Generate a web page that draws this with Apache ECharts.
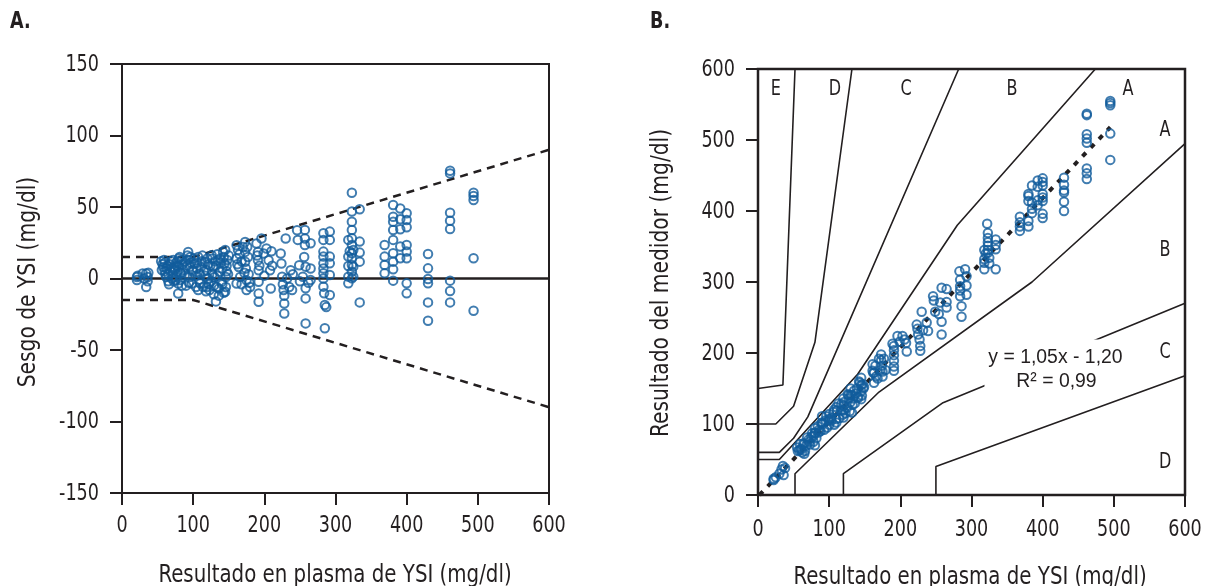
<!DOCTYPE html>
<html>
<head>
<meta charset="utf-8">
<script src="https://cdn.jsdelivr.net/npm/echarts@6/dist/echarts.min.js"></script>
<style>
html,body{margin:0;padding:0;background:#fff;}
#c{width:1205px;height:586px;}
</style>
</head>
<body>
<div id="c"></div>
<script>
// ---------- DATA ----------
const xTicks = [0, 100, 200, 300, 400, 500, 600];
const biasTicks = [-150, -100, -50, 0, 50, 100, 150];
const meterTicks = [0, 100, 200, 300, 400, 500, 600];

// Panel A: [YSI plasma result, bias]
const biasPoints = [
[21,1],[21,-1],[22,2],[29,3.5],[31,0],[34,3.5],[34,-6],[36,-2],[36,1],[37,4],
[55,12],[57,10],[58,8],[60,5],[60,11],[62,1],[63,7],[65,-2],[65,3],[67,10],[68,5],[70,0],[72,13],[73,8],[74,6],[75,-1],[76,1],[77,9],[78,12],[79,-3.5],[79,-10.5],[80,14],[81,15],[82,4],[83,3.5],[84,-5],[85,10],
[56,6],[59,13],[61,3],[64,9],[66,-4],[69,12],[71,7],[73,-2],[76,11],[78,5],[80,8],[82,-1],[84,13],[86,6],[88,2],[89,12],[90,-5],[91,9],
[92,16],[93,18.6],[93,13],[94,-3],[95,8],[95,1],[97,11],[98,-3.5],[100,4.7],[101,14],[102,10.5],[104,-6],[105,7],[107,15],[108,-1],[109,3.5],[110,-3.5],[112,12],[114,-6],[115,5],[116,11.7],[118,-9],[119,5.8],[120,14],[121,0],[122,-4],[123,-8],[124,9],[126,16.3],[127,3],[128,8],[129,-5],[130,1],[131,12],[132,-16],[133,-6],[134,17],[135,12.8],[136,-12],[137,4.7],[138,14],[140,-2.3],[141,7],[142,18.6],[143,-10],[144,10.5],[145,-9.3],[145,20],[146,1],[147,5],[148,13],[150,16],
[96,15],[99,6],[103,2],[106,11],[107,-8],[111,8],[113,16],[117,2],[119,-6],[121,10],[125,-2],[127,14],[129,-11],[132,9],[134,2],[136,-7],[139,11],[141,-4],[143,15],[146,-6],[147,9],[149,3],
[161,23.3],[161,14],[161,-3.5],[163,20],[164,8],[166,1],[168,12],[173,25.6],[173,18.6],[173,11.7],[174,7],[175,-1.2],[175,-8],[176,22],[178,3],[180,-6],
[162,10],[165,17],[168,-4],[170,22],[172,4],[177,15],[179,-3],
[189,24.5],[190,16],[191,18.6],[191,12.8],[192,5.8],[192,-2.3],[192,-10.5],[192,-16.3],[193,9],[196,28],[199,17.5],[200,2],[203,21],[206,12.8],[208,5.8],[209,-7],[210,19],[211,9],
[223,17.5],[224,10.5],[225,1.2],[226,-4],[227,-8],[228,-17.5],[228,-24.5],[228,-12],[230,28],[232,0],[235,-6],[237,5.8],[239,-8],[240,3],[246,33.8],[247,27],[249,9.3],[250,-2],[254,1.2],[256,15],[257,34],[257,28],[257,23.4],[258,8.3],[258,-6.9],[258,-13.9],[258,-31.4],[262,-3],[265,24.6],[265,7],[265,-1],
[283,31.6],[283,27],[283,18.8],[283,15.3],[283,10.6],[283,7],[283,3.6],[283,0],[283,-5.7],[284,-10.4],[285,-18.5],[285,-34.8],[287,-20],[292,32.8],[292,27],[292,15.3],[292,10.6],[292,2.4],[292,-11.5],
[318,27],[318,15.3],[318,8.7],[318,1.3],[318,-3.4],[320,19],[323,60],[323,46.8],[323,39.7],[323,33.9],[323,28.1],[323,23.4],[323,17.6],[323,14.1],[323,9.4],[323,4.8],[323,0.1],[325,19.9],[325,8.3],[325,1.3],[334,48.4],[334,25.8],[334,18.1],[334,11.8],[334,-16.7],
[369,23.4],[369,15.3],[369,9.4],[369,3.6],[381,51.4],[381,43.2],[381,39.7],[381,33.9],[381,27],[381,17.6],[381,11.8],[381,6.4],[381,-1.5],[391,49],[391,41.4],[391,34.4],[391,22.3],[391,14.1],[400,45.6],[400,40.9],[400,35.8],[400,23.4],[400,18.8],[400,14.1],[400,-3.4],[400,-10.4],
[430,17.1],[430,7.1],[430,-0.3],[430,-3.4],[430,-16.7],[430,-29.5],
[461,75.4],[461,73.5],[461,46],[461,40.4],[461,34.6],[461,-1.5],[461,-8.7],[461,-16.7],
[494,60],[494,57.7],[494,54.9],[494,14.1],[494,-22.5]
];
const biasUpper = [[0,15],[100,15],[600,90]];
const biasLower = [[0,-15],[100,-15],[600,-90]];
const biasZero = [[0,0],[600,0]];

// Panel B: [YSI plasma result, meter result]
const meterPoints = [
[22,23],[22,21],[25,25],[30,30],[33,36],[35,41],[36,28],[38,38],
[55,67],[58,63],[60,65],[62,60],[65,72],[65,58],[68,70],[72,75],[75,82],[78,75],[80,94],[80,87],[80,70],[82,80],[85,88],
[56,62],[59,72],[61,64],[64,73],[66,62],[69,81],[71,78],[73,71],[76,87],[78,83],[80,88],[84,97],[86,92],[88,90],[89,101],[91,100],
[90,111],[90,102],[93,92],[95,105],[97,95],[100,114],[100,107],[100,99],[103,108],[107,120],[110,124],[110,107],[110,102],[114,108],[117,128],[120,136],[120,126],[120,119],[120,109],[123,115],[126,142],[128,136],[130,150],[130,141],[130,131],[132,116],[133,127],[135,147],[138,143],[140,138],[142,160],[145,165],[145,155],[145,146],[145,135],[148,150],
[96,111],[99,105],[103,105],[106,117],[107,99],[111,119],[113,129],[117,119],[119,113],[121,131],[125,123],[127,141],[129,118],[132,141],[134,136],[136,129],[139,150],[141,137],[143,158],[146,140],[147,156],[149,152],
[161,184],[161,175],[163,172],[163,158],[166,167],[173,198],[173,190],[174,182],[175,174],[175,167],
[162,172],[165,182],[168,164],[170,192],[172,176],[177,192],[179,176],
[189,213],[191,210],[191,204],[191,197],[191,189],[191,181],[191,175],[196,224],[199,216],[203,224],[206,219],[208,214],[209,202],[223,240],[224,234],[225,226],[227,219],[228,210],[228,203],[230,258],[232,232],[237,243],[239,231],[246,280],[247,274],[249,258],[254,255],[256,271],[258,292],[258,226],[258,244],[265,290],[265,272],[265,264],[283,315],[284,303],[284,294],[284,288],[284,280],[286,266],[286,251],[291,318],[293,308],[293,295],[293,282],
[318,345],[318,332],[318,327],[318,318],[320,340],[322,382],[323,369],[323,362],[323,356],[323,351],[323,345],[323,341],[325,334],[325,326],[334,360],[334,352],[334,346],[334,318],
[368,392],[368,384],[368,378],[368,372],[380,424],[380,421],[380,414],[380,386],[380,378],[385,436],[385,412],[385,403],[385,397],[393,443],[393,434],[393,415],[393,408],[400,446],[400,441],[400,436],[400,424],[400,419],[400,414],[400,396],[400,390],
[430,447],[430,437],[430,429],[430,426],[430,413],[430,400],
[462,537],[462,535],[462,508],[462,502],[462,496],[462,460],[462,453],[462,445],
[495,555],[495,552],[495,549],[495,509],[495,472]
];
const regressionLine = [[2,0],[495,518]];
// Parkes error grid boundaries
const zoneLines = [
  [[0,50],[30,50],[140,170],[280,380],[474,600]],
  [[52,0],[52,30],[170,145],[385,300],[600,495]],
  [[0,60],[30,60],[50,80],[70,110],[282,600]],
  [[120,0],[120,30],[260,130],[600,270]],
  [[0,100],[25,100],[50,125],[80,215],[132,600]],
  [[250,0],[250,40],[600,168]],
  [[0,150],[35,155],[52,600]]
];
const zoneLabels = [
  [25,571,'E'],[108,571,'D'],[208,571,'C'],[357,571,'B'],[520,571,'A'],
  [572,513,'A'],[572,345,'B'],[572,200,'C'],[572,46,'D']
];
const equationPos = [418, 178];
const equationLines = ['y = 1,05x - 1,20', 'R² = 0,99'];

// ---------- CHART ----------
const INK = '#231f20';
const BLUE = '#125c9c';
const COND = "'Liberation Sans Narrow','DejaVu Sans Condensed',sans-serif";
const SQ = 0.85; // horizontal squeeze to mimic a condensed face
const chart = echarts.init(document.getElementById('c'), null, {renderer:'canvas'});

function xAxisDef(gi){
  return {
    type:'value', gridIndex:gi, min:xTicks[0], max:xTicks[xTicks.length-1], interval:100,
    axisLine:{show:true, onZero:false, lineStyle:{color:INK, width:2}},
    axisTick:{show:true, inside:false, length:12, lineStyle:{color:INK, width:2}},
    axisLabel:{show:false}, splitLine:{show:false}
  };
}
function yAxisDef(gi, ticks){
  return {
    type:'value', gridIndex:gi, min:ticks[0], max:ticks[ticks.length-1], interval:ticks[1]-ticks[0],
    axisLine:{show:true, onZero:false, lineStyle:{color:INK, width:2}},
    axisTick:{show:true, inside:false, length:12, lineStyle:{color:INK, width:2}},
    axisLabel:{show:false}, splitLine:{show:false}
  };
}
function lineSeries(xi, data, style, z){
  return {type:'line', xAxisIndex:xi, yAxisIndex:xi, data:data, symbol:'none', silent:true,
    lineStyle:style, z:z||2, animation:false, clip:true};
}

const series = [];
series.push(lineSeries(0, biasZero, {color:INK, width:2.5, type:'solid'}));
series.push(lineSeries(0, biasUpper, {color:INK, width:2.5, type:[8,6]}));
series.push(lineSeries(0, biasLower, {color:INK, width:2.5, type:[8,6]}));
series.push({type:'scatter', xAxisIndex:0, yAxisIndex:0, data:biasPoints, symbol:'circle', symbolSize:8.5,
  itemStyle:{color:'transparent', borderColor:BLUE, borderWidth:2}, z:5, animation:false, silent:true});

zoneLines.forEach(l => series.push(lineSeries(1, l, {color:INK, width:1.6, type:'solid'})));
series.push(lineSeries(1, regressionLine, {color:INK, width:4, type:[5,7]}, 3));
series.push({type:'scatter', xAxisIndex:1, yAxisIndex:1, data:meterPoints, symbol:'circle', symbolSize:8.5,
  itemStyle:{color:'transparent', borderColor:BLUE, borderWidth:2}, z:5, animation:false, silent:true});

chart.setOption({
  animation:false,
  backgroundColor:'#fff',
  grid:[
    {left:122, top:64, width:427, height:429, show:true, borderColor:INK, borderWidth:2, backgroundColor:'transparent'},
    {left:758, top:69, width:427, height:426, show:true, borderColor:INK, borderWidth:2.5, backgroundColor:'transparent'}
  ],
  xAxis:[xAxisDef(0), xAxisDef(1)],
  yAxis:[yAxisDef(0,biasTicks), yAxisDef(1,meterTicks)],
  series:series
});

// ---------- TEXT (positioned through the axes' scales) ----------
function txt(x, y, text, size, align, valign, opts){
  opts = opts || {};
  return {type:'text', x:x, y:y, scaleX:opts.sx || SQ, rotation:opts.rot || 0, z:100,
    style:{text:text, x:0, y:0, fill:INK, font:(opts.bold?'bold ':'') + size + 'px ' + (opts.family || COND),
      textAlign:align, textVerticalAlign:valign}};
}
const g = [];
// Panel A ticks
xTicks.forEach(v => { const p = chart.convertToPixel({gridIndex:0}, [v, biasTicks[0]]); g.push(txt(p[0], p[1]+22, String(v), 23, 'center', 'top')); });
biasTicks.forEach(v => { const p = chart.convertToPixel({gridIndex:0}, [xTicks[0], v]); g.push(txt(p[0]-23, p[1]+1, String(v), 23, 'right', 'middle')); });
// Panel B ticks
xTicks.forEach(v => { const p = chart.convertToPixel({gridIndex:1}, [v, meterTicks[0]]); g.push(txt(p[0], p[1]+24, String(v), 23, 'center', 'top')); });
meterTicks.forEach(v => { const p = chart.convertToPixel({gridIndex:1}, [xTicks[0], v]); g.push(txt(p[0]-23, p[1]+1, String(v), 23, 'right', 'middle')); });
// Zone letters
zoneLabels.forEach(d => { const p = chart.convertToPixel({gridIndex:1}, [d[0], d[1]]); g.push(txt(p[0], p[1], d[2], 21, 'center', 'middle')); });
// Regression equation with white backing
{
  const p = chart.convertToPixel({gridIndex:1}, equationPos);
  g.push({type:'rect', z:90, shape:{x:p[0]-71, y:p[1]-29, width:144, height:55}, style:{fill:'#fff'}});
  g.push(txt(p[0], p[1]-11, equationLines[0], 20, 'center', 'middle', {sx:0.97, family:"'Liberation Sans',Arial,sans-serif"}));
  g.push(txt(p[0]+1, p[1]+13, equationLines[1], 20, 'center', 'middle', {sx:0.97, family:"'Liberation Sans',Arial,sans-serif"}));
}
// Titles
g.push(txt(10, 22, 'A.', 23, 'left', 'middle', {bold:true}));
g.push(txt(650, 22, 'B.', 23, 'left', 'middle', {bold:true}));
g.push(txt(335, 575, 'Resultado en plasma de YSI (mg/dl)', 25, 'center', 'middle', {sx:0.88}));
g.push(txt(970, 577, 'Resultado en plasma de YSI (mg/dl)', 25, 'center', 'middle', {sx:0.88}));
g.push(txt(28, 282, 'Sesgo de YSI (mg/dl)', 25, 'center', 'middle', {sx:0.9, rot:Math.PI/2}));
g.push(txt(661, 283, 'Resultado del medidor (mg/dl)', 25, 'center', 'middle', {sx:0.9, rot:Math.PI/2}));

chart.setOption({graphic:g});
</script>
</body>
</html>
